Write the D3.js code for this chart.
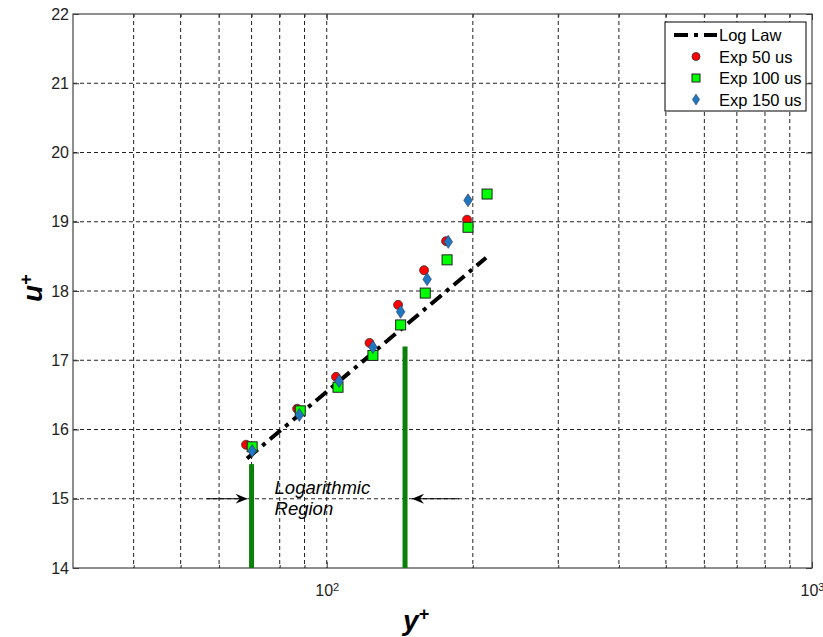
<!DOCTYPE html>
<html lang="en">
<head>
  <meta charset="UTF-8">
  <title>Log Law u+ vs y+</title>
  <script src="https://d3js.org/d3.v7.min.js"></script>
  <style>
    body { margin: 0; background: #fff; font-family: "Liberation Sans", Arial, sans-serif; }
    svg { display: block; }
    .tick text { font-size: 16px; fill: #222; font-family: "Liberation Sans", Arial, sans-serif; }
    .grid line { stroke: #222; stroke-dasharray: 4,3; stroke-width: 1; }
    .axis-label { font-size: 28px; font-weight: bold; font-style: italic; }
  </style>
</head>
<body>
  <svg width="823" height="637"></svg>

  <script>
    // values
    const yTicks = [14, 15, 16, 17, 18, 19, 20, 21, 22];
    const xMajor = [100, 1000];
    const xMinor = [40, 50, 60, 70, 80, 90, 200, 300, 400, 500, 600, 700, 800, 900];

    const logLawX = [68.5, 213];
    const logLawU = [15.58, 18.48];

    const exp50X = [68.2, 86.9, 104.5, 122.5, 140.3, 158.7, 176.2, 194.6];
    const exp50U = [15.78, 16.30, 16.76, 17.25, 17.80, 18.30, 18.72, 19.03];

    const exp100X = [70.2, 88.2, 105.5, 124.5, 142, 159.6, 177, 195.5, 214];
    const exp100U = [15.75, 16.27, 16.61, 17.07, 17.51, 17.97, 18.45, 18.92, 19.40];

    const exp150X = [70.2, 87.8, 106, 124.5, 142, 161, 178, 195.5];
    const exp150U = [15.69, 16.21, 16.70, 17.19, 17.70, 18.17, 18.71, 19.31];

    const regionX = [70, 145];      // green bars bounding the log region
    const regionTop = [15.5, 17.2];
    const arrowU = 15;

    const legendLabels = ['Log Law', 'Exp 50 us', 'Exp 100 us', 'Exp 150 us'];

    const margin = { top: 14, right: 11, bottom: 69, left: 73 };
    const width = 823 - margin.left - margin.right;
    const height = 637 - margin.top - margin.bottom;

    const svg = d3.select('svg');
    const g = svg.append('g').attr('transform', `translate(${margin.left},${margin.top})`);

    const x = d3.scaleLog().domain([30, 1000]).range([0, width]);
    const y = d3.scaleLinear().domain([14, 22]).range([height, 0]);

    // grid
    g.append('g').attr('class', 'grid')
      .selectAll('line').data(xMinor.concat([100]))
      .join('line')
      .attr('x1', d => x(d)).attr('x2', d => x(d))
      .attr('y1', 0).attr('y2', height);
    g.append('g').attr('class', 'grid')
      .selectAll('line').data(yTicks.slice(1, -1))
      .join('line')
      .attr('x1', 0).attr('x2', width)
      .attr('y1', d => y(d)).attr('y2', d => y(d));

    // axes with inward ticks
    g.append('g').attr('class', 'xmajor').attr('transform', `translate(0,${height})`)
      .call(d3.axisBottom(x).tickValues(xMajor).tickSize(-6).tickPadding(14).tickFormat(''))
      .call(a => a.select('.domain').remove());
    g.append('g').attr('transform', `translate(0,${height})`)
      .call(d3.axisBottom(x).tickValues(xMinor).tickSize(-3).tickFormat(''))
      .call(a => a.select('.domain').remove());
    g.append('g')
      .call(d3.axisTop(x).tickValues(xMajor).tickSize(-6).tickFormat(''))
      .call(a => a.select('.domain').remove());
    g.append('g')
      .call(d3.axisTop(x).tickValues(xMinor).tickSize(-3).tickFormat(''))
      .call(a => a.select('.domain').remove());
    g.append('g')
      .call(d3.axisLeft(y).tickValues(yTicks).tickSize(-6).tickPadding(4).tickFormat(d3.format('d')))
      .call(a => a.select('.domain').remove());
    g.append('g').attr('transform', `translate(${width},0)`)
      .call(d3.axisRight(y).tickValues(yTicks).tickSize(-6).tickFormat(''))
      .call(a => a.select('.domain').remove());
    g.selectAll('.tick line').attr('stroke', '#333');

    // 10^n labels with superscript exponent
    g.select('.xmajor').selectAll('.tick text')
      .attr('y', 17).attr('dy', '0.71em')
      .each(function (d) {
        const t = d3.select(this);
        t.text('10');
        t.append('tspan').attr('dy', '-0.45em').style('font-size', '11px')
          .text(Math.round(Math.log10(d)));
      });

    g.append('rect')
      .attr('width', width).attr('height', height)
      .attr('fill', 'none').attr('stroke', '#444').attr('stroke-width', 1.2);

    // green region bars
    g.selectAll('.bar').data(regionX)
      .join('line')
      .attr('x1', d => x(d)).attr('x2', d => x(d))
      .attr('y1', (d, i) => y(regionTop[i])).attr('y2', height)
      .attr('stroke', '#0a800a').attr('stroke-width', 5);

    // arrows
    const defs = svg.append('defs');
    defs.append('marker').attr('id', 'ah')
      .attr('viewBox', '0 0 12 10').attr('refX', 12).attr('refY', 5)
      .attr('markerWidth', 12).attr('markerHeight', 10).attr('markerUnits', 'userSpaceOnUse')
      .attr('orient', 'auto')
      .append('path').attr('d', 'M0,0 L12,5 L0,10 L4,5 Z').attr('fill', '#000');
    g.append('line')
      .attr('x1', x(regionX[0]) - 45).attr('x2', x(regionX[0]) - 4)
      .attr('y1', y(arrowU)).attr('y2', y(arrowU))
      .attr('stroke', '#000').attr('stroke-width', 1).attr('marker-end', 'url(#ah)');
    g.append('line')
      .attr('x1', x(regionX[1]) + 54).attr('x2', x(regionX[1]) + 7)
      .attr('y1', y(arrowU)).attr('y2', y(arrowU))
      .attr('stroke', '#000').attr('stroke-width', 1).attr('marker-end', 'url(#ah)');

    g.append('text')
      .attr('x', x(regionX[0]) + 23).attr('y', y(arrowU) - 5)
      .style('font-size', '18.5px').style('font-style', 'italic')
      .selectAll('tspan').data(['Logarithmic', 'Region'])
      .join('tspan')
      .attr('x', x(regionX[0]) + 23)
      .attr('dy', (d, i) => i === 0 ? 0 : 21)
      .text(d => d);

    // log law line
    const line = d3.line().x(d => x(d[0])).y(d => y(d[1]));
    g.append('path')
      .datum(logLawX.map((v, i) => [v, logLawU[i]]))
      .attr('d', line)
      .attr('fill', 'none').attr('stroke', '#000').attr('stroke-width', 4)
      .attr('stroke-dasharray', '14,6,4,6');

    // markers
    const diamond = 'M0,-6.5 L4.3,0 L0,6.5 L-4.3,0 Z';
    function drawCircles(xs, us, sel) {
      sel.selectAll(null).data(xs).join('circle')
        .attr('cx', d => x(d)).attr('cy', (d, i) => y(us[i])).attr('r', 4.5)
        .attr('fill', '#ff0000').attr('stroke', '#333').attr('stroke-width', 0.8);
    }
    function drawSquares(xs, us, sel) {
      sel.selectAll(null).data(xs).join('rect')
        .attr('x', d => x(d) - 5).attr('y', (d, i) => y(us[i]) - 5)
        .attr('width', 10).attr('height', 10)
        .attr('fill', '#00ff00').attr('stroke', '#222').attr('stroke-width', 1);
    }
    function drawDiamonds(xs, us, sel) {
      sel.selectAll(null).data(xs).join('path')
        .attr('d', diamond)
        .attr('transform', (d, i) => `translate(${x(d)},${y(us[i])})`)
        .attr('fill', '#1f78bf').attr('stroke', '#335').attr('stroke-width', 0.6);
    }
    drawCircles(exp50X, exp50U, g.append('g'));
    drawSquares(exp100X, exp100U, g.append('g'));
    drawDiamonds(exp150X, exp150U, g.append('g'));

    // axis labels
    svg.append('text').attr('class', 'axis-label')
      .attr('x', 403).attr('y', 630)
      .text('y').append('tspan').attr('dy', '-0.55em').style('font-size', '18px').text('+');
    svg.append('text').attr('class', 'axis-label')
      .attr('transform', 'translate(42,302) rotate(-90)')
      .text('u').append('tspan').attr('dy', '-0.55em').style('font-size', '18px').text('+');

    // legend
    const lg = g.append('g').attr('transform', `translate(${width - 147},8)`);
    lg.append('rect').attr('width', 141).attr('height', 89)
      .attr('fill', '#fff').attr('stroke', '#000').attr('stroke-width', 1);
    legendLabels.forEach((lab, i) => {
      lg.append('text').attr('x', 54).attr('y', 13 + i * 21.5 + 6)
        .style('font-size', '16.5px').text(lab);
    });
    lg.append('line').attr('x1', 9).attr('x2', 52).attr('y1', 13).attr('y2', 13)
      .attr('stroke', '#000').attr('stroke-width', 4).attr('stroke-dasharray', '14,6,4,6');
    lg.append('circle').attr('cx', 31).attr('cy', 13 + 21.5).attr('r', 4)
      .attr('fill', '#ff0000').attr('stroke', '#333').attr('stroke-width', 0.8);
    lg.append('rect').attr('x', 27).attr('y', 13 + 43 - 4).attr('width', 8).attr('height', 8)
      .attr('fill', '#00ff00').attr('stroke', '#222');
    lg.append('path').attr('d', diamond).attr('transform', `translate(31,${13 + 64.5}) scale(0.85)`)
      .attr('fill', '#1f78bf').attr('stroke', '#335').attr('stroke-width', 0.6);
  </script>
</body>
</html>
